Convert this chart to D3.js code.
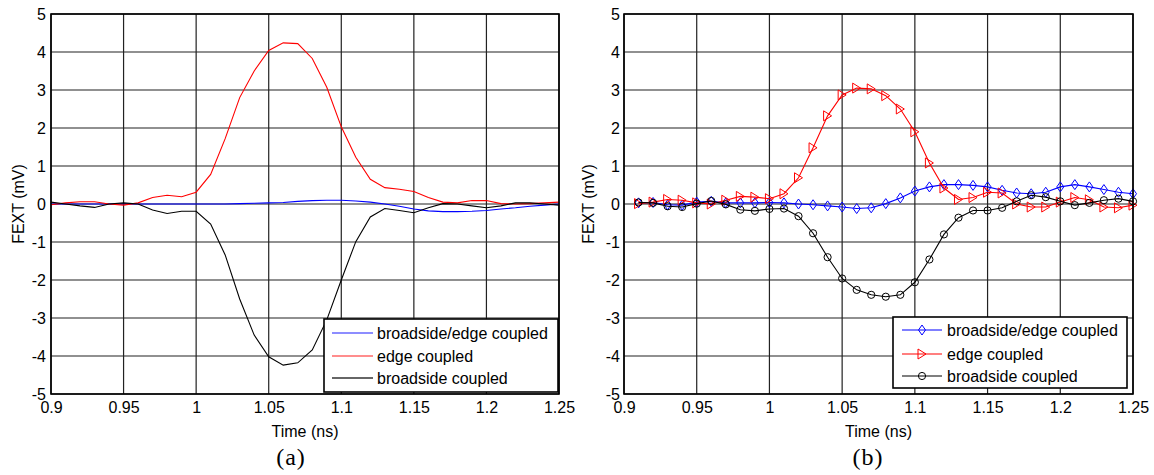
<!DOCTYPE html>
<html><head><meta charset="utf-8">
<script src="https://cdn.jsdelivr.net/npm/d3@7"></script>
<style>body{margin:0;background:#fff}svg{display:block}</style>
</head><body>
<svg id="c" width="1154" height="475"></svg>
<script>
const timeA = [0.90,0.91,0.92,0.93,0.94,0.95,0.96,0.97,0.98,0.99,1.00,1.01,1.02,1.03,1.04,1.05,1.06,1.07,1.08,1.09,1.10,1.11,1.12,1.13,1.14,1.15,1.16,1.17,1.18,1.19,1.20,1.21,1.22,1.23,1.24,1.25];
const blueA  = [0,0,0,0,0,0,0,0,0,0,0,0,0,0.01,0.02,0.03,0.04,0.07,0.09,0.10,0.10,0.08,0.05,0.00,-0.06,-0.13,-0.18,-0.20,-0.20,-0.19,-0.17,-0.13,-0.10,-0.06,-0.03,0.00];
const redA   = [-0.02,0.03,0.06,0.06,0.00,-0.03,0.03,0.17,0.23,0.19,0.31,0.78,1.72,2.80,3.50,4.04,4.24,4.22,3.83,3.07,2.03,1.23,0.65,0.43,0.39,0.33,0.17,0.05,0.03,0.09,0.09,0.01,0.00,0.01,0.03,0.05];
const blackA = [0.05,0.00,-0.05,-0.09,0.00,0.03,0.00,-0.16,-0.25,-0.19,-0.19,-0.53,-1.34,-2.50,-3.45,-4.02,-4.24,-4.18,-3.84,-3.05,-2.00,-0.99,-0.34,-0.12,-0.17,-0.23,-0.10,0.01,0.00,-0.05,-0.10,-0.05,0.03,0.03,0.00,-0.03];

const timeB = [0.91,0.92,0.93,0.94,0.95,0.96,0.97,0.98,0.99,1.00,1.01,1.02,1.03,1.04,1.05,1.06,1.07,1.08,1.09,1.10,1.11,1.12,1.13,1.14,1.15,1.16,1.17,1.18,1.19,1.20,1.21,1.22,1.23,1.24,1.25];
const blueB  = [0.03,0.04,-0.02,-0.03,0.05,0.07,0.03,0.03,0.03,0.04,0.03,0.00,-0.02,-0.05,-0.08,-0.12,-0.10,0.01,0.16,0.34,0.45,0.51,0.51,0.49,0.45,0.36,0.29,0.27,0.31,0.45,0.51,0.45,0.38,0.31,0.27];
const redB   = [0.01,0.05,0.12,0.10,0.03,0.00,0.10,0.20,0.18,0.14,0.27,0.69,1.48,2.32,2.87,3.05,3.03,2.85,2.50,1.90,1.08,0.42,0.12,0.17,0.31,0.29,0.00,-0.08,-0.08,0.05,0.17,0.11,-0.08,-0.10,-0.03];
const blackB = [0.04,0.03,-0.06,-0.08,0.01,0.08,-0.01,-0.15,-0.18,-0.13,-0.12,-0.32,-0.77,-1.40,-1.96,-2.26,-2.39,-2.44,-2.39,-2.06,-1.46,-0.80,-0.36,-0.17,-0.17,-0.10,0.07,0.23,0.18,0.07,-0.03,0.03,0.10,0.14,0.07];

const xTicks = [0.9,0.95,1,1.05,1.1,1.15,1.2,1.25];
const xTickLabels = ["0.9","0.95","1","1.05","1.1","1.15","1.2","1.25"];
const yTicks = [-5,-4,-3,-2,-1,0,1,2,3,4,5];
const yTickLabels = ["-5","-4","-3","-2","-1","0","1","2","3","4","5"];
const seriesNames = ["broadside/edge coupled","edge coupled","broadside coupled"];
const seriesColors = ["#0000ff","#ff0000","#000000"];
const markerTypes = ["diamond","triangle","circle"];
const panelLabels = ["(a)","(b)"];
const xTitle = "Time (ns)";
const yTitle = "FEXT (mV)";

const svg = d3.select("#c");
const font = "'Liberation Sans', Arial, sans-serif";

function markerPath(type){
  if(type==="diamond") return "M0,-5L3.5,0L0,5L-3.5,0Z";
  if(type==="triangle") return "M-4,-5L4,0L-4,5Z";
  return d3.symbol().type(d3.symbolCircle).size(Math.PI*3.6*3.6)();
}

function panel(cfg){
  const g = svg.append("g");
  const x = d3.scaleLinear().domain([0.9,1.25]).range([cfg.left,cfg.right]);
  const y = d3.scaleLinear().domain([-5,5]).range([394,14]);
  // grid
  g.append("g").selectAll("line").data(xTicks).join("line")
    .attr("x1",d=>x(d)).attr("x2",d=>x(d)).attr("y1",y(5)).attr("y2",y(-5))
    .attr("stroke","#222").attr("stroke-width",1.2);
  g.append("g").selectAll("line").data(yTicks).join("line")
    .attr("y1",d=>y(d)).attr("y2",d=>y(d)).attr("x1",x(0.9)).attr("x2",x(1.25))
    .attr("stroke","#222").attr("stroke-width",1.2);
  // axes labels
  const ax = g.append("g").attr("transform",`translate(0,${y(-5)})`)
    .call(d3.axisBottom(x).tickValues(xTicks).tickFormat((d,i)=>xTickLabels[i]).tickSize(0).tickPadding(8));
  const ay = g.append("g").attr("transform",`translate(${x(0.9)},0)`)
    .call(d3.axisLeft(y).tickValues(yTicks).tickFormat((d,i)=>yTickLabels[i]).tickSize(0).tickPadding(cfg.ypad));
  [ax,ay].forEach(a=>{a.select(".domain").remove();a.selectAll("text").attr("font-family",font).attr("font-size",16).attr("fill","#000");});
  ax.selectAll("text").attr("dy","0.71em");
  // series
  cfg.series.forEach((vals,k)=>{
    const pts = cfg.time.map((t,i)=>[t,vals[i]]);
    g.append("path").datum(pts)
      .attr("d",d3.line().x(d=>x(d[0])).y(d=>y(d[1])))
      .attr("fill","none").attr("stroke",seriesColors[k]).attr("stroke-width",1.1);
    if(cfg.markers){
      g.append("g").selectAll("path").data(pts).join("path")
        .attr("d",markerPath(markerTypes[k]))
        .attr("transform",d=>`translate(${x(d[0])},${y(d[1])})`)
        .attr("fill","none").attr("stroke",seriesColors[k]).attr("stroke-width",1);
    }
  });
  // frame
  g.append("rect").attr("x",x(0.9)).attr("y",y(5)).attr("width",x(1.25)-x(0.9)).attr("height",y(-5)-y(5))
    .attr("fill","none").attr("stroke","#000").attr("stroke-width",1.6);
  // titles
  g.append("text").attr("x",(x(0.9)+x(1.25))/2).attr("y",437).attr("text-anchor","middle")
    .attr("font-family",font).attr("font-size",16).text(xTitle);
  g.append("text").attr("transform",`translate(${cfg.ylabX},204) rotate(-90)`).attr("text-anchor","middle")
    .attr("dy","0.35em").attr("font-family",font).attr("font-size",16).text(yTitle);
  g.append("text").attr("x",cfg.capX).attr("y",465).attr("text-anchor","middle")
    .attr("font-family","'Liberation Serif','Times New Roman',serif").attr("font-size",24)
    .attr("letter-spacing","1px").text(cfg.cap);
  // legend
  const L = cfg.legend;
  g.append("rect").attr("x",L.x).attr("y",L.y).attr("width",L.w).attr("height",L.h)
    .attr("fill","#fff").attr("stroke","#000").attr("stroke-width",1.6);
  seriesNames.forEach((n,k)=>{
    const ry = L.rows[k];
    g.append("line").attr("x1",L.lx1).attr("x2",L.lx2).attr("y1",ry).attr("y2",ry)
      .attr("stroke",seriesColors[k]).attr("stroke-width",cfg.markers?1.1:1.6)
      .attr("stroke-opacity",cfg.markers?1:(k<2?0.6:0.8));
    if(cfg.markers){
      g.append("path").attr("d",markerPath(markerTypes[k])).attr("transform",`translate(${(L.lx1+L.lx2)/2},${ry})`)
        .attr("fill","none").attr("stroke",seriesColors[k]).attr("stroke-width",1);
    }
    g.append("text").attr("x",L.tx).attr("y",ry).attr("dy","0.35em")
      .attr("font-family",font).attr("font-size",16).text(n);
  });
}

panel({left:51,right:559,time:timeA,series:[blueA,redA,blackA],markers:false,ypad:5,ylabX:18,capX:291,cap:panelLabels[0],
  legend:{x:324,y:319,w:234,h:73,lx1:332,lx2:373,tx:377,rows:[333,356,378]}});
panel({left:624,right:1133,time:timeB,series:[blueB,redB,blackB],markers:true,ypad:4,ylabX:588,capX:868,cap:panelLabels[1],
  legend:{x:893,y:317,w:234,h:71,lx1:902,lx2:942,tx:947,rows:[330,354,376]}});
</script>
</body></html>
